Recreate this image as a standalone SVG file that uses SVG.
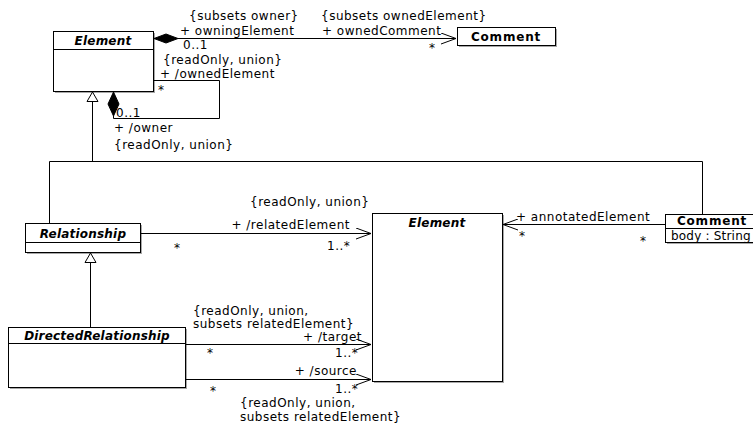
<svg xmlns="http://www.w3.org/2000/svg" width="753" height="426" viewBox="0 0 753 426">
  <style>
    text { font-family: "DejaVu Sans", Verdana, sans-serif; font-size: 12px; fill: #000; letter-spacing: 0.5px; }
    .title { font-weight: bold; font-style: italic; text-anchor: middle; letter-spacing: 0.2px; }
    .cname { font-weight: bold; text-anchor: middle; letter-spacing: 0.8px; }
    .box { fill: #fff; stroke: #000; stroke-width: 1; }
    .shadow { fill: #a8a8a8; }
    .ln { fill: none; stroke: #000; stroke-width: 1; }
    .end { text-anchor: end; }
  </style>
  <defs>
    <marker id="open" markerWidth="16" markerHeight="12" refX="15" refY="6" orient="auto" markerUnits="userSpaceOnUse">
      <path d="M0,0.5 L15,6 L0,11.5" fill="none" stroke="#000" stroke-width="1"/>
    </marker>
  </defs>

  <rect width="753" height="426" fill="#fff"/>

  <!-- classes -->
  <g id="element-top">
    <rect class="shadow" x="55" y="33" width="100" height="60"/>
    <rect class="box" x="53.5" y="31.5" width="100" height="60"/>
    <line class="ln" x1="53.5" y1="49.5" x2="153.5" y2="49.5"/>
    <text class="title" x="103" y="45">Element</text>
  </g>

  <g id="comment-top">
    <rect class="shadow" x="459" y="29" width="98" height="18"/>
    <rect class="box" x="457.5" y="27.5" width="98" height="18"/>
    <text class="cname" x="506" y="41">Comment</text>
  </g>

  <g id="relationship">
    <rect class="shadow" x="27" y="225" width="115" height="29"/>
    <rect class="box" x="25.5" y="223.5" width="115" height="29"/>
    <line class="ln" x1="25.5" y1="242.5" x2="140.5" y2="242.5"/>
    <text class="title" x="83" y="238">Relationship</text>
  </g>

  <g id="directed-relationship">
    <rect class="shadow" x="10" y="329" width="177" height="60"/>
    <rect class="box" x="8.5" y="327.5" width="177" height="60"/>
    <line class="ln" x1="8.5" y1="343.5" x2="185.5" y2="343.5"/>
    <text class="title" x="97" y="340">DirectedRelationship</text>
  </g>

  <g id="element-mid">
    <rect class="shadow" x="374" y="215" width="130" height="168"/>
    <rect class="box" x="372.5" y="213.5" width="130" height="168"/>
    <text class="title" x="437" y="227">Element</text>
  </g>

  <g id="comment-right">
    <rect class="shadow" x="667" y="216" width="90" height="28"/>
    <rect class="box" x="665.5" y="214.5" width="90" height="28"/>
    <line class="ln" x1="665.5" y1="228.5" x2="755.5" y2="228.5"/>
    <text class="cname" x="712" y="225">Comment</text>
    <text x="671" y="240" style="letter-spacing:0.2px">body : String</text>
  </g>

  <!-- connectors -->
  <g id="connectors">
    <!-- Element owns Comment -->
    <path class="ln" d="M178,38.5 H456" marker-end="url(#open)"/>
    <path d="M154,38.5 L166,34 L178,38.5 L166,43 Z" fill="#000" stroke="#000"/>

    <!-- Element owner / ownedElement loop -->
    <path class="ln" d="M153.5,80.5 H219.5 V118.5 H113.5 V116"/>
    <path d="M113.5,92 L108,104 L113.5,116 L119,104 Z" fill="#000" stroke="#000"/>

    <!-- generalization tree into Element -->
    <path class="ln" d="M92.5,101 V161.5"/>
    <path class="ln" d="M49.5,223 V161.5 H702.5 V214"/>
    <path d="M92.5,92 L87,101.5 L98,101.5 Z" fill="#fff" stroke="#000" stroke-width="1"/>

    <!-- DirectedRelationship generalizes Relationship -->
    <path class="ln" d="M90.5,327 V262.5"/>
    <path d="M90.5,253 L85,262.5 L96,262.5 Z" fill="#fff" stroke="#000" stroke-width="1"/>

    <!-- relatedElement -->
    <path class="ln" d="M140.5,233.5 H371" marker-end="url(#open)"/>
    <!-- target -->
    <path class="ln" d="M185.5,344.5 H371" marker-end="url(#open)"/>
    <!-- source -->
    <path class="ln" d="M185.5,379.5 H371" marker-end="url(#open)"/>
    <!-- annotatedElement -->
    <path class="ln" d="M665,224.5 H503" marker-end="url(#open)"/>
  </g>

  <!-- association end labels -->
  <g id="labels">
    <text x="189" y="20">{subsets owner}</text>
    <text x="180" y="35">+ owningElement</text>
    <text x="183" y="49">0..1</text>
    <text x="321" y="20">{subsets ownedElement}</text>
    <text x="322" y="35">+ ownedComment</text>
    <text x="429" y="52">*</text>

    <text x="163" y="64">{readOnly, union}</text>
    <text x="160" y="78">+ /ownedElement</text>
    <text x="158" y="94">*</text>
    <text x="116" y="117">0..1</text>
    <text x="114" y="132">+ /owner</text>
    <text x="114" y="149">{readOnly, union}</text>

    <text x="250" y="206">{readOnly, union}</text>
    <text class="end" x="350" y="229">+ /relatedElement</text>
    <text x="174" y="252">*</text>
    <text x="327" y="250">1..*</text>

    <text x="516" y="221">+ annotatedElement</text>
    <text x="519" y="240">*</text>
    <text x="640" y="245">*</text>

    <text x="193" y="315">{readOnly, union,</text>
    <text x="193" y="328">subsets relatedElement}</text>
    <text class="end" x="362" y="341">+ /target</text>
    <text x="207" y="357">*</text>
    <text x="335" y="357">1..*</text>

    <text class="end" x="357" y="375">+ /source</text>
    <text x="210" y="395">*</text>
    <text x="335" y="393">1..*</text>
    <text x="240" y="407">{readOnly, union,</text>
    <text x="240" y="421">subsets relatedElement}</text>
  </g>
</svg>
